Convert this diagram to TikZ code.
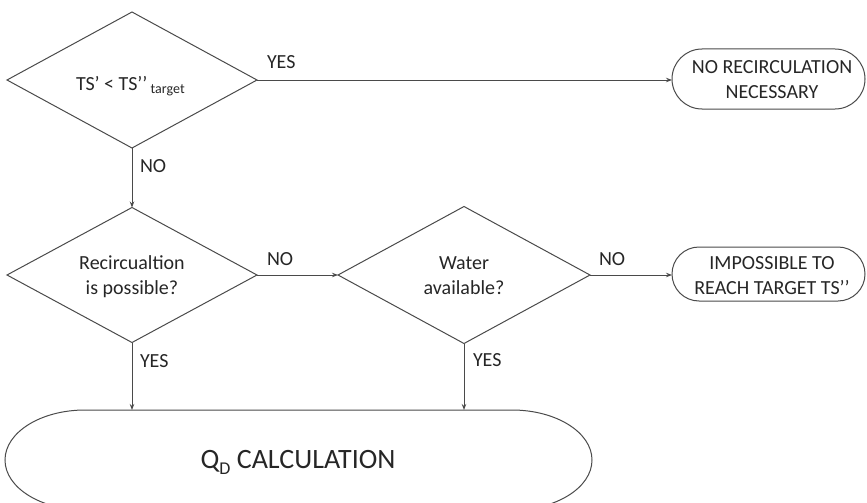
\documentclass[tikz,border=0pt]{standalone}
\usepackage{fontspec}
\setmainfont{Carlito}
\usetikzlibrary{shapes.geometric,shapes.misc,arrows.meta}
\definecolor{lnc}{HTML}{4A4A4A}
\definecolor{txc}{HTML}{262626}
\tikzset{
  decision/.style={diamond,draw=lnc,line width=1pt,inner sep=0pt,outer sep=0pt},
  terminal/.style={rounded rectangle,draw=lnc,line width=1pt,inner sep=0pt,outer sep=0pt},
  txt/.style={text=txc,font=\fontsize{20}{24.5}\selectfont,inner sep=0pt,outer sep=0pt},
  lbl/.style={txt,anchor=base west},
  conn/.style={draw=lnc,line width=1pt,-{Stealth[length=6pt,width=4.5pt]}},
}
\begin{document}
\begin{tikzpicture}[x=1pt,y=1pt]
\useasboundingbox (0,0) rectangle (867,-503);
\clip (0,0) rectangle (867,-503);
% decisions
\node[decision,minimum width=250pt,minimum height=136pt] (d1) at (132,-80) {};
\node[decision,minimum width=250pt,minimum height=135pt] (d2) at (132,-275) {};
\node[decision,minimum width=252pt,minimum height=137pt] (d3) at (464,-275) {};
% terminals
\node[terminal,minimum width=193pt,minimum height=60pt] (nr) at (768.5,-79) {};
\node[terminal,minimum width=193pt,minimum height=54pt] (imp) at (768.5,-274) {};
\node[minimum width=587pt,minimum height=100pt,inner sep=0pt,outer sep=0pt] (qd) at (298.5,-460) {};
\draw[lnc,line width=1pt] ([xshift=80pt]qd.north west) -- ([xshift=-80pt]qd.north east)
  arc[start angle=90,end angle=-90,x radius=80pt,y radius=50pt]
  -- ([xshift=80pt]qd.south west)
  arc[start angle=270,end angle=90,x radius=80pt,y radius=50pt] -- cycle;
% texts
\node[txt,anchor=base west] (t1) at (76,-90) {TS’ < TS’’\,\textsubscript{target}};
\node[txt,anchor=base,align=center] (t2) at (132,-294) {Recircualtion\\is possible?};
\node[txt,anchor=base,align=center] (t3) at (464,-294) {Water\\available?};
\node[txt,anchor=base,align=center] (tnr) at (772,-98) {NO RECIRCULATION\\NECESSARY};
\node[txt,anchor=base,align=center] (timp) at (772,-294) {IMPOSSIBLE TO\\REACH TARGET TS’’};
\node[txt,anchor=base,font=\fontsize{28}{32}\selectfont] (tqd) at (298,-468) {Q\raisebox{-0.45ex}{\fontsize{18}{20}\selectfont D} CALCULATION};
% connectors
\draw[conn] (d1.east) -- (d1.east -| nr.west);
\draw[conn] (d1.south) -- (d2.north);
\draw[conn] (d2.east) -- (d3.west);
\draw[conn] (d3.east) -- (d3.east -| imp.west);
\draw[conn] (d2.south) -- (d2.south |- qd.north);
\draw[conn] (d3.south) -- (d3.south |- qd.north);
% labels
\node[lbl] (l1) at (267,-69) {YES};
\node[lbl] (l2) at (140,-172) {NO};
\node[lbl] (l3) at (267,-265) {NO};
\node[lbl] (l4) at (599,-265) {NO};
\node[lbl] (l5) at (140,-367) {YES};
\node[lbl] (l6) at (473,-366) {YES};
\end{tikzpicture}
\end{document}
